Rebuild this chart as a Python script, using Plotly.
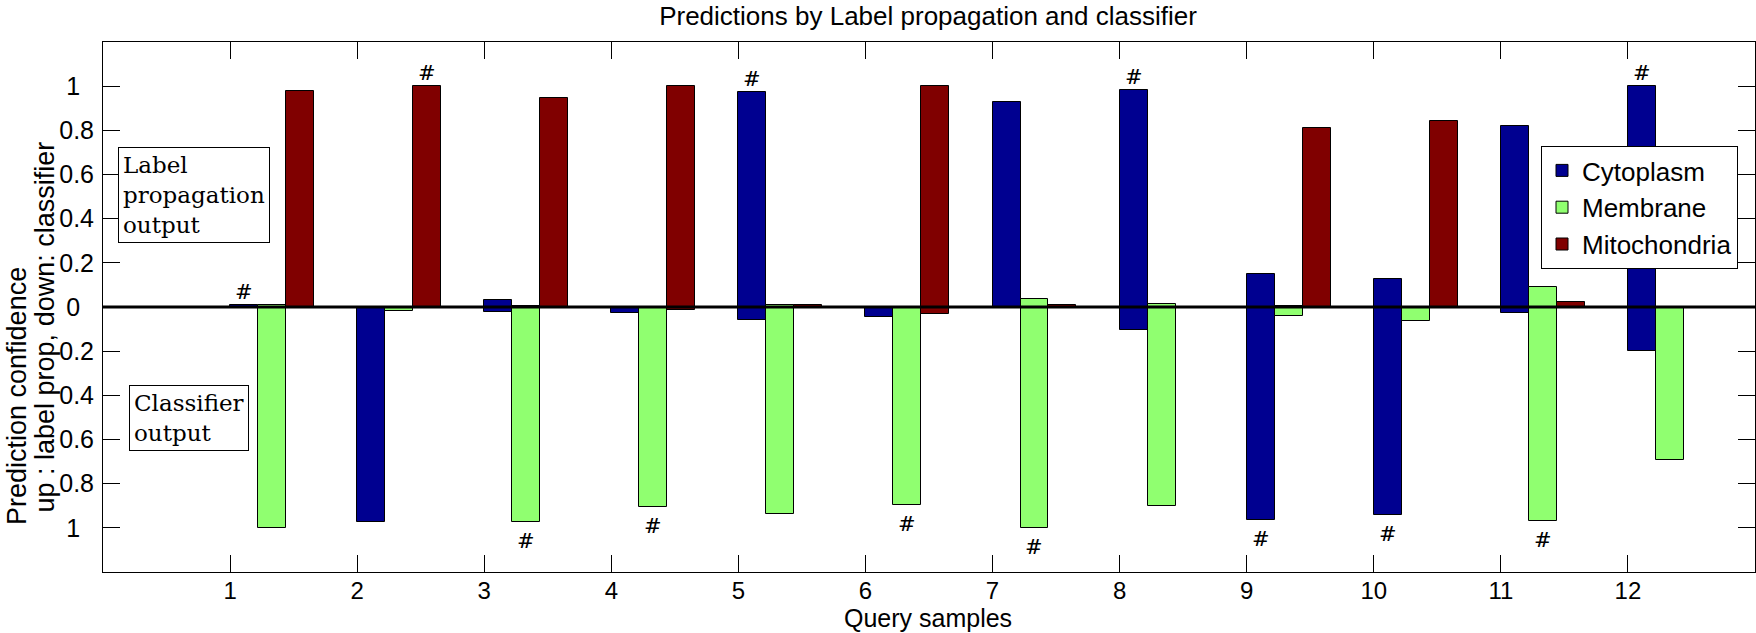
import plotly.graph_objects as go

# ---- data ----
samples = [1, 2, 3, 4, 5, 6, 7, 8, 9, 10, 11, 12]
classes = ["Cytoplasm", "Membrane", "Mitochondria"]

# label propagation confidence (drawn upward)
lp_cytoplasm    = [0.007, 0.0, 0.033, 0.0, 0.973, 0.0, 0.927, 0.982, 0.151, 0.129, 0.818, 1.0]
lp_membrane     = [0.007, 0.0, 0.005, 0.0, 0.007, 0.0, 0.038, 0.015, 0.006, 0.0, 0.092, 0.0]
lp_mitochondria = [0.979, 1.0, 0.946, 1.0, 0.007, 1.0, 0.007, 0.0, 0.809, 0.841, 0.024, 0.0]

# classifier confidence (drawn downward)
cl_cytoplasm    = [0.0, 0.973, 0.022, 0.026, 0.059, 0.044, 0.0, 0.104, 0.964, 0.941, 0.026, 0.198]
cl_membrane     = [1.0, 0.018, 0.973, 0.905, 0.937, 0.896, 1.0, 0.90, 0.039, 0.062, 0.968, 0.692]
cl_mitochondria = [0.0, 0.0, 0.0, 0.012, 0.0, 0.030, 0.0, 0.0, 0.0, 0.0, 0.0, 0.0]

# '#' markers: which class and which side (up = label prop, down = classifier)
hash_class = ["Cytoplasm", "Mitochondria", "Membrane", "Membrane", "Cytoplasm", "Membrane",
              "Membrane", "Cytoplasm", "Cytoplasm", "Cytoplasm", "Membrane", "Cytoplasm"]
hash_side = ["up", "up", "down", "down", "up", "down", "down", "up", "down", "down", "down", "up"]

y_tickvals = [-1, -0.8, -0.6, -0.4, -0.2, 0, 0.2, 0.4, 0.6, 0.8, 1]
y_ticktext = ["1", "0.8", "0.6", "0.4", "0.2", "0", "0.2", "0.4", "0.6", "0.8", "1"]

# ---- style ----
colors = {"Cytoplasm": "#000090", "Membrane": "#90FF70", "Mitochondria": "#800000"}
bar_w = 0.22
offsets = {"Cytoplasm": 0.0, "Membrane": 0.22, "Mitochondria": 0.44}
up = {"Cytoplasm": lp_cytoplasm, "Membrane": lp_membrane, "Mitochondria": lp_mitochondria}
down = {"Cytoplasm": cl_cytoplasm, "Membrane": cl_membrane, "Mitochondria": cl_mitochondria}

SANS = "Liberation Sans, Arial, Helvetica, sans-serif"
SERIF = "DejaVu Serif, serif"

W, H = 1756, 633
ML, MR, MT, MB = 103, 1, 42, 61
PW, PH = W - ML - MR, H - MT - MB


def px_x(x):  # page pixel -> paper x
    return (x - ML) / PW


def px_y(y):  # page pixel -> paper y
    return (H - MB - y) / PH


# centre short y tick labels like the original (pad with a figure space)
y_ticktext_disp = [t if len(t) > 1 else t + "\u2007" for t in y_ticktext]

fig = go.Figure()
for c in classes:
    fig.add_trace(go.Bar(
        x=samples, y=up[c], name=c, width=bar_w, offset=offsets[c],
        marker=dict(color=colors[c], line=dict(color="black", width=1)),
        legendgroup=c, showlegend=True))
for c in classes:
    fig.add_trace(go.Bar(
        x=samples, y=[-v for v in down[c]], name=c, width=bar_w, offset=offsets[c],
        marker=dict(color=colors[c], line=dict(color="black", width=1)),
        legendgroup=c, showlegend=False))

annotations = []
for s, c, side in zip(samples, hash_class, hash_side):
    i = samples.index(s)
    xc = s + offsets[c] + bar_w / 2
    if side == "up":
        annotations.append(dict(x=xc, y=up[c][i], xref="x", yref="y", text="#",
                                showarrow=False, yanchor="middle", yshift=13,
                                font=dict(family=SERIF, size=21, color="black")))
    else:
        annotations.append(dict(x=xc, y=-down[c][i], xref="x", yref="y", text="#",
                                showarrow=False, yanchor="middle", yshift=-19,
                                font=dict(family=SERIF, size=21, color="black")))

# text boxes
annotations.append(dict(x=px_x(118), y=px_y(147), xref="paper", yref="paper",
                        text="Label<br>propagation<br>output", showarrow=False, align="left",
                        xanchor="left", yanchor="top", bordercolor="black", borderwidth=1,
                        borderpad=4, bgcolor="white",
                        font=dict(family=SERIF, size=23, color="black")))
annotations.append(dict(x=px_x(129), y=px_y(385), xref="paper", yref="paper",
                        text="Classifier<br>output", showarrow=False, align="left",
                        xanchor="left", yanchor="top", bordercolor="black", borderwidth=1,
                        borderpad=4, bgcolor="white",
                        font=dict(family=SERIF, size=23, color="black")))
# y-axis title (two lines, drawn bottom-to-top, starting near the bottom)
annotations.append(dict(x=px_x(17), y=px_y(527), xref="paper", yref="paper",
                        text="Prediction confidence",
                        showarrow=False, textangle=-90, xanchor="center", yanchor="bottom",
                        font=dict(family=SANS, size=27, color="black")))
annotations.append(dict(x=px_x(44), y=px_y(515), xref="paper", yref="paper",
                        text="up : label prop, down: classifier",
                        showarrow=False, textangle=-90, xanchor="center", yanchor="bottom",
                        font=dict(family=SANS, size=27, color="black")))
# x-axis title
annotations.append(dict(x=px_x(928), y=px_y(618), xref="paper", yref="paper",
                        text="Query samples", showarrow=False,
                        xanchor="center", yanchor="middle",
                        font=dict(family=SANS, size=25, color="black")))

fig.update_layout(
    width=W, height=H,
    margin=dict(l=ML, r=MR, t=MT, b=MB, autoexpand=False),
    paper_bgcolor="white", plot_bgcolor="white",
    barmode="overlay",
    bargap=0,
    title=dict(text="Predictions by Label propagation and classifier",
               x=928 / W, xref="container", xanchor="center",
               y=1 - 16 / H, yref="container", yanchor="middle",
               font=dict(family=SANS, size=26, color="black")),
    font=dict(family=SANS, color="black"),
    legend=dict(x=px_x(1541), y=px_y(146), xanchor="left", yanchor="top",
                bordercolor="black", borderwidth=1, bgcolor="white",
                font=dict(family=SANS, size=26, color="black"),
                traceorder="normal", tracegroupgap=0, itemwidth=30),
    annotations=annotations,
    shapes=[dict(type="line", xref="paper", x0=0, x1=1, yref="y", y0=0, y1=0,
                 line=dict(color="black", width=3), layer="above")],
    xaxis=dict(range=[0, 13], tickvals=samples, ticktext=[str(s) for s in samples],
               ticks="inside", ticklen=17, tickcolor="black", tickwidth=1,
               showline=True, linecolor="black", linewidth=1, mirror="ticks",
               showgrid=False, zeroline=False, ticklabelstandoff=-3,
               tickfont=dict(family=SANS, size=24, color="black"),
               automargin=False),
    yaxis=dict(range=[-1.2, 1.2], tickvals=y_tickvals, ticktext=y_ticktext_disp,
               ticks="inside", ticklen=17, tickcolor="black", tickwidth=1,
               showline=True, linecolor="black", linewidth=1, mirror="ticks",
               showgrid=False, zeroline=False, ticklabelstandoff=3,
               tickfont=dict(family=SANS, size=25, color="black"),
               automargin=False),
)

fig.write_html("out.html", config={"displayModeBar": False},
               post_script="document.body.style.margin='0';")
